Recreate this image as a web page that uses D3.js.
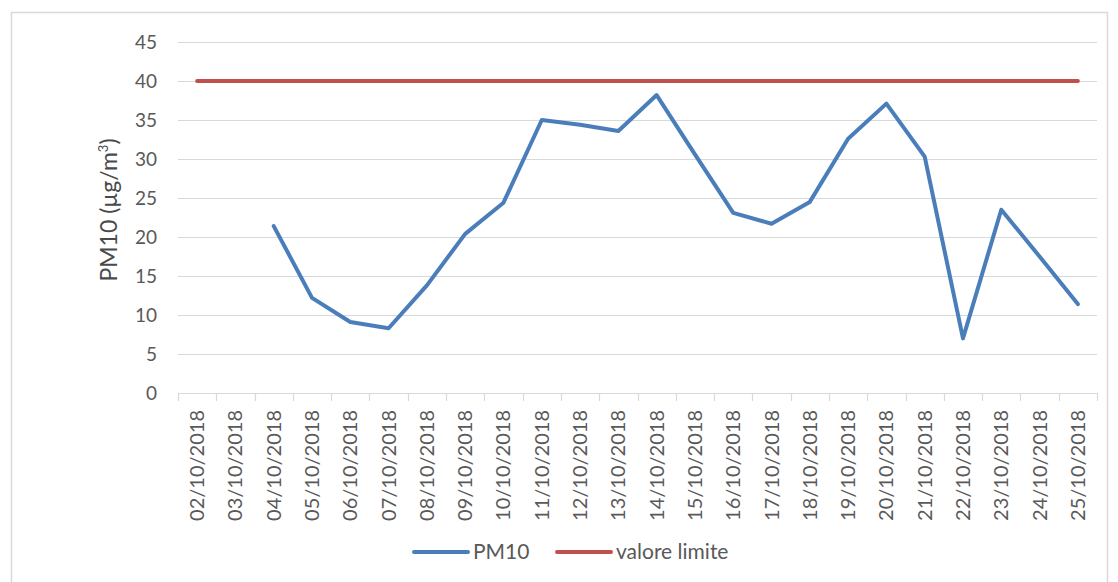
<!DOCTYPE html>
<html>
<head>
<meta charset="utf-8">
<script src="https://cdn.jsdelivr.net/npm/d3@7"></script>
<style>
  html, body { margin: 0; background: #fff; overflow: hidden; }
  svg { display: block; font-family: Lato, "Open Sans", sans-serif; }
</style>
</head>
<body>
<div id="chart"></div>
<script>
// dates on the category axis
var dates = ["02/10/2018","03/10/2018","04/10/2018","05/10/2018","06/10/2018","07/10/2018",
             "08/10/2018","09/10/2018","10/10/2018","11/10/2018","12/10/2018","13/10/2018",
             "14/10/2018","15/10/2018","16/10/2018","17/10/2018","18/10/2018","19/10/2018",
             "20/10/2018","21/10/2018","22/10/2018","23/10/2018","24/10/2018","25/10/2018"];
// PM10 daily values (null = no measurement)
var pm10 = [null, null, 21.4, 12.2, 9.1, 8.3, 13.8, 20.4, 24.4, 35.0, 34.4, 33.6,
            38.2, 30.6, 23.1, 21.7, 24.5, 32.6, 37.1, 30.3, 7.0, 23.5, 17.5, 11.4];
var limitValue = 40;
var yTicks = [0, 5, 10, 15, 20, 25, 30, 35, 40, 45];
var legendLabels = ["PM10", "valore limite"];

var width = 1118, height = 582;
var margin = {top: 42, right: 21, bottom: 189, left: 178};
var innerWidth = width - margin.left - margin.right;
var innerHeight = height - margin.top - margin.bottom;
var blue = "#4a7ebb", red = "#c0504d", textColor = "#595959", gridColor = "#d9d9d9";

var svg = d3.select("#chart").append("svg")
    .attr("width", width)
    .attr("height", height);

// chart border (bottom edge falls outside the picture)
svg.append("path")
    .attr("d", "M11.5,582V12.5H1107.5V582")
    .attr("fill", "none")
    .attr("stroke", gridColor)
    .attr("stroke-width", 1.5);

var g = svg.append("g").attr("transform", "translate(" + margin.left + "," + margin.top + ")");

var x = d3.scaleBand().domain(dates).range([0, innerWidth]);
var y = d3.scaleLinear().domain([0, 45]).range([innerHeight, 0]);

// gridlines
g.append("g").selectAll("line")
    .data(yTicks)
    .enter().append("line")
    .attr("x1", 0).attr("x2", innerWidth)
    .attr("y1", function(d) { return Math.round(y(d)) + 0.5; })
    .attr("y2", function(d) { return Math.round(y(d)) + 0.5; })
    .attr("stroke", gridColor)
    .attr("stroke-width", 1.2);

// y tick labels
g.append("g").selectAll("text")
    .data(yTicks)
    .enter().append("text")
    .attr("x", -21)
    .attr("y", function(d) { return y(d); })
    .attr("dy", "0.35em")
    .attr("text-anchor", "end")
    .attr("fill", textColor)
    .style("font-size", "19px")
    .text(function(d) { return d; });

// category ticks on baseline
var bounds = dates.map(function(d) { return x(d); }).concat([innerWidth]);
g.append("g").selectAll("line")
    .data(bounds)
    .enter().append("line")
    .attr("x1", function(d) { return Math.round(d) + 0.5; })
    .attr("x2", function(d) { return Math.round(d) + 0.5; })
    .attr("y1", innerHeight).attr("y2", innerHeight + 8)
    .attr("stroke", gridColor)
    .attr("stroke-width", 1.2);

// x labels, rotated
g.append("g").selectAll("text")
    .data(dates)
    .enter().append("text")
    .attr("transform", function(d) {
        return "translate(" + (x(d) + x.bandwidth() / 2) + "," + (innerHeight + 17) + ") rotate(-90)";
    })
    .attr("dy", "0.35em")
    .attr("text-anchor", "end")
    .attr("fill", textColor)
    .style("font-size", "20px")
    .text(function(d) { return d; });

// limit line
var limitLine = d3.line()
    .x(function(d) { return x(d) + x.bandwidth() / 2; })
    .y(function() { return y(limitValue); });
g.append("path")
    .datum(dates)
    .attr("d", limitLine)
    .attr("fill", "none")
    .attr("stroke", red)
    .attr("stroke-width", 4)
    .attr("stroke-linecap", "round");

// PM10 line
var pmLine = d3.line()
    .defined(function(d) { return d.v !== null; })
    .x(function(d) { return x(d.date) + x.bandwidth() / 2; })
    .y(function(d) { return y(d.v); });
g.append("path")
    .datum(dates.map(function(d, i) { return {date: d, v: pm10[i]}; }))
    .attr("d", pmLine)
    .attr("fill", "none")
    .attr("stroke", blue)
    .attr("stroke-width", 4)
    .attr("stroke-linejoin", "round")
    .attr("stroke-linecap", "round");

// y axis title
var yTitle = svg.append("text")
    .attr("transform", "translate(117,210) rotate(-90)")
    .attr("text-anchor", "middle")
    .attr("fill", "#4a4a4a")
    .style("font-size", "23px");
yTitle.append("tspan").text("PM10 (µg/m");
yTitle.append("tspan").attr("dy", -9).style("font-size", "13px").text("3");
yTitle.append("tspan").attr("dy", 9).text(")");

// legend
var legendItems = [
    {label: legendLabels[0], color: blue, x: 414},
    {label: legendLabels[1], color: red, x: 557}
];
var lg = svg.append("g").selectAll("g")
    .data(legendItems)
    .enter().append("g")
    .attr("transform", function(d) { return "translate(" + d.x + ",552)"; });
lg.append("line")
    .attr("x1", 0).attr("x2", 54)
    .attr("stroke", function(d) { return d.color; })
    .attr("stroke-width", 4)
    .attr("stroke-linecap", "round");
lg.append("text")
    .attr("x", 59)
    .attr("dy", "0.35em")
    .attr("fill", textColor)
    .style("font-size", "21px")
    .text(function(d) { return d.label; });
</script>
</body>
</html>
